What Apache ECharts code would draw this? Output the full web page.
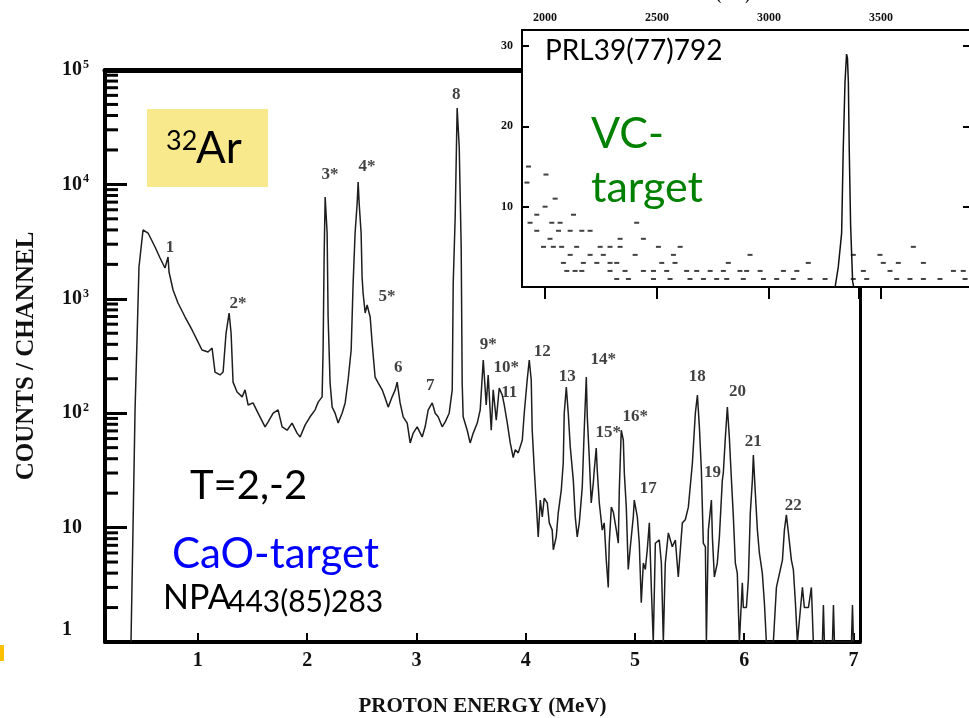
<!DOCTYPE html>
<html>
<head>
<meta charset="utf-8">
<script src="https://cdn.jsdelivr.net/npm/echarts@6/dist/echarts.min.js"></script>
<style>
html,body{margin:0;padding:0;background:#fff;}
#chart{width:969px;height:718px;}
</style>
</head>
<body>
<div id="chart"></div>
<script>
// ---------------- DATA ----------------
// Main spectrum: proton energy (MeV) and counts/channel
const energy = [0.388,0.406,0.425,0.443,0.461,0.498,0.544,0.608,0.654,0.699,0.727,0.736,0.773,0.818,0.883,0.947,0.993,1.038,1.093,1.130,1.157,1.203,1.231,1.258,1.286,1.304,1.322,1.359,1.405,1.432,1.460,1.505,1.551,1.615,1.643,1.689,1.734,1.771,1.817,1.862,1.908,1.936,1.982,2.027,2.073,2.101,2.137,2.146,2.156,2.165,2.183,2.192,2.210,2.229,2.256,2.284,2.320,2.348,2.375,2.403,2.421,2.439,2.458,2.467,2.476,2.494,2.503,2.512,2.531,2.549,2.577,2.595,2.622,2.650,2.687,2.714,2.742,2.778,2.806,2.824,2.851,2.879,2.916,2.943,2.971,3.007,3.053,3.080,3.108,3.145,3.172,3.199,3.236,3.264,3.300,3.328,3.337,3.355,3.373,3.392,3.410,3.419,3.428,3.465,3.492,3.520,3.557,3.584,3.612,3.639,3.657,3.685,3.703,3.731,3.758,3.786,3.804,3.832,3.859,3.886,3.905,3.932,3.969,3.987,4.014,4.033,4.051,4.060,4.079,4.097,4.115,4.134,4.152,4.170,4.198,4.216,4.243,4.253,4.280,4.298,4.326,4.344,4.353,4.372,4.390,4.408,4.436,4.454,4.472,4.491,4.518,4.536,4.555,4.564,4.582,4.600,4.619,4.628,4.646,4.655,4.674,4.701,4.719,4.738,4.756,4.765,4.784,4.802,4.830,4.848,4.857,4.875,4.894,4.903,4.921,4.939,4.958,4.985,4.994,5.022,5.040,5.058,5.077,5.095,5.113,5.132,5.150,5.168,5.187,5.223,5.242,5.260,5.278,5.306,5.342,5.370,5.397,5.434,5.461,5.489,5.526,5.553,5.572,5.590,5.608,5.626,5.645,5.654,5.672,5.700,5.709,5.727,5.754,5.773,5.800,5.809,5.828,5.846,5.864,5.882,5.901,5.919,5.937,5.956,5.983,5.992,6.020,6.038,6.056,6.075,6.084,6.102,6.121,6.139,6.166,6.185,6.203,6.267,6.295,6.350,6.368,6.386,6.405,6.432,6.450,6.469,6.487,6.533,6.551,6.588,6.615,6.633,6.716,6.725,6.734,6.808,6.817,6.826,6.982,6.991,7.000];
const counts = [1,9.5,107,436,1897,3994,3758,2836,2274,1858,2318,1715,1194,919,693,534,436,357,343,371,229,216,229,502,751,502,187,153,139,160,118,123,100,76,84,100,107,76,71,82,67,62,79,93,107,125,139,357,2513,7762,3758,693,184,113,100,82,100,123,195,357,1374,3758,6871,10490,6871,3758,1550,1124,751,883,693,411,207,184,160,136,113,139,160,187,123,93,82,55,67,76,62,76,107,123,100,93,76,84,100,160,1374,5188,46560,21230,2836,184,93,71,55,67,82,107,292,118,216,71,160,87,166,144,118,82,55,41,48,45,58,100,195,292,195,71,32,16.4,8.3,17.4,12.4,18.1,16.4,11,9.5,6.4,8.3,13.4,21.3,36.7,100,169,100,51,26,12.4,8.3,11,22.6,71,207,93,41.4,16.4,24.5,32,49.6,32,16.4,9.5,11,5.2,3.0,7.3,15.1,13.7,9.5,7.3,21.3,71,58,30,15.1,4.3,6.8,12.4,17.4,12.4,7.3,2.2,4.9,4.3,6.4,11,3.0,1,7.3,7.8,4.9,1,4.9,9.0,6.8,7.8,3.7,11,11.7,15.1,36.7,100,144,76,32,7.3,6.8,1,9.5,17.4,8.3,3.7,4.9,8.3,26,30,62,113,62,27.7,12.4,4.9,4.0,1,3.3,2.0,2.0,3.5,13.4,26,43,20,9.5,6.0,4.0,2.2,1,1,3.0,5.2,9.5,12.9,9.0,5.2,4.3,2.2,1,3.0,2.0,2.0,3.0,1,1,2.1,1,1,2.1,1,1,2.1,1];

// Peak labels (text, energy MeV, counts at label centre)
const peakNames = ['1','2*','3*','4*','5*','6','7','8','9*','10*','11','12','13','14*','15*','16*','17','18','19','20','21','22'];
const peakLabelE = [0.745,1.368,2.210,2.549,2.732,2.833,3.126,3.364,3.657,3.822,3.850,4.152,4.381,4.711,4.756,5.003,5.123,5.571,5.709,5.938,6.084,6.450];
const peakLabelC = [2780,900,12080,14190,1037,248,176,60400,394,248,150,343,207,292,67,93,21.7,207,30,153,56,15.5];

// Main axes ticks
const mainXTicks = [1,2,3,4,5,6,7];
const minorMultipliers = [2,3,4,5,6,7,8,9];
const decades = [1,10,100,1000,10000];

// Inset (VC target): energy in keV and counts
const vcDotKeV = [1926,2004,1919,2045,2000,1963,1933,2127,2030,2067,2409,1963,2060,2112,2164,2201,2022,2439,2335,1993,2037,2074,2141,2246,2290,2335,2506,2603,3644,2112,2201,2260,2402,2573,2915,3495,3376,2082,2171,2231,2290,2320,2521,2580,2818,3175,3510,3577,3689,2097,2134,2164,2290,2357,2439,2484,2543,2632,2677,2737,2796,2870,2900,2960,3064,3124,3421,3540,3823,3867,2320,2372,2484,2558,2647,2707,2766,2811,2885,2975,3034,3108,3183,3250,3376,3436,3570,3629,3689,3763,3875];
const vcDotCounts = [15,14,13,11,10,9,8,9,8,8,8,7,7,7,7,7,6,6,6,5,5,5,5,5,5,5,5,5,5,4,4,4,4,4,4,4,4,3,3,3,3,3,3,3,3,3,3,3,3,2,2,2,2,2,2,2,2,2,2,2,2,2,2,2,2,2,2,2,2,2,1,1,1,1,1,1,1,1,1,1,1,1,1,1,1,1,1,1,1,1,1];
const vcPeakKeV = [3295,3309,3324,3331,3339,3346,3350,3354,3358,3364,3373,3378];
const vcPeakCounts = [0,2.5,6.7,17,25.5,29,28.5,25.5,17,7.8,0.7,0];
const insetXTicks = [2000,2500,3000,3500];
const insetXBottomTicks = [2000,2500,3000,3402,3500];

// ---------------- CHART ----------------
const SERIF = "'Liberation Serif','DejaVu Serif',serif";
const SANS = "Lato,'Noto Sans',sans-serif";
const X_MIN = 0.15, X_MAX = 7.06;
const IX_MIN = 1897, IX_MAX = 3906;

const minorTickValues = [];
decades.forEach(d => minorMultipliers.forEach(m => minorTickValues.push(d * m)));

const chart = echarts.init(document.getElementById('chart'), null, {renderer: 'canvas'});

const option = {
  animation: false,
  backgroundColor: '#ffffff',
  grid: [
    {left: 105, top: 70, right: 109, bottom: 76, show: false, outerBoundsMode: 'none', containLabel: false},
    {left: 522, top: 30, width: 450, height: 257, show: true, backgroundColor: '#ffffff',
     borderColor: '#000', borderWidth: 2, z: 10, outerBoundsMode: 'none', containLabel: false}
  ],
  xAxis: [
    {gridIndex: 0, type: 'value', min: X_MIN, max: X_MAX, splitNumber: 6, position: 'bottom',
     axisLine: {lineStyle: {color: '#000', width: 4}},
     axisTick: {inside: true, length: 9, lineStyle: {color: '#000', width: 2}, customValues: mainXTicks},
     axisLabel: {fontFamily: SERIF, fontWeight: 'bold', fontSize: 20, color: '#111', margin: 9,
                 customValues: mainXTicks},
     splitLine: {show: false},
     name: 'PROTON ENERGY (MeV)', nameLocation: 'middle', nameGap: 54,
     nameTextStyle: {fontFamily: SERIF, fontWeight: 'bold', fontSize: 21, color: '#111'}},
    {gridIndex: 0, type: 'value', min: X_MIN, max: X_MAX, position: 'top',
     axisLine: {lineStyle: {color: '#000', width: 5}}, axisTick: {show: false},
     axisLabel: {show: false}, splitLine: {show: false}},
    {gridIndex: 1, type: 'value', min: IX_MIN, max: IX_MAX, splitNumber: 4, position: 'bottom', z: 11,
     axisLine: {show: false},
     axisTick: {inside: false, length: 12, lineStyle: {color: '#000', width: 2}, customValues: insetXBottomTicks},
     axisLabel: {show: false}, splitLine: {show: false}},
    {gridIndex: 1, type: 'value', min: IX_MIN, max: IX_MAX, splitNumber: 4, position: 'top', z: 11,
     axisLine: {show: false},
     axisTick: {inside: true, length: 8, lineStyle: {color: '#000', width: 2}, customValues: insetXTicks},
     axisLabel: {fontFamily: SERIF, fontWeight: 'bold', fontSize: 12, color: '#111', margin: 6,
                 customValues: insetXTicks, formatter: v => String(v)},
     splitLine: {show: false}}
  ],
  yAxis: [
    {gridIndex: 0, type: 'log', logBase: 10, min: 1, max: 100000, position: 'left',
     axisLine: {lineStyle: {color: '#000', width: 4}},
     axisTick: {inside: true, length: 22, lineStyle: {color: '#000', width: 3}},
     axisLabel: {align: 'left', margin: 43, color: '#111',
       formatter: function (v) {
         const e = Math.round(Math.log10(v));
         if (e === 0) return '{one|1}';
         if (e === 1) return '{a|10}';
         return '{a|10}{s|' + e + '}';
       },
       rich: {
         a: {fontFamily: SERIF, fontWeight: 'bold', fontSize: 20, color: '#111', lineHeight: 22},
         s: {fontFamily: SERIF, fontWeight: 'bold', fontSize: 12, color: '#111', lineHeight: 22, verticalAlign: 'top', padding: [0, 0, 8, 1]},
         one: {fontFamily: SERIF, fontWeight: 'bold', fontSize: 20, color: '#111', padding: [0, 0, 24, 0]}
       }},
     splitLine: {show: false},
     name: 'COUNTS / CHANNEL', nameLocation: 'middle', nameGap: 66,
     nameTextStyle: {fontFamily: SERIF, fontWeight: 'bold', fontSize: 25, color: '#111'}},
    {gridIndex: 0, type: 'log', logBase: 10, min: 1, max: 100000, position: 'right',
     axisLine: {lineStyle: {color: '#000', width: 3}}, axisTick: {show: false},
     axisLabel: {show: false}, splitLine: {show: false}},
    {gridIndex: 1, type: 'value', min: 0, max: 32, interval: 10, position: 'left', z: 11,
     axisLine: {show: false},
     axisTick: {inside: true, length: 7, lineStyle: {color: '#000', width: 2}},
     axisLabel: {fontFamily: SERIF, fontWeight: 'bold', fontSize: 12, color: '#111', margin: 9,
                 showMinLabel: false, showMaxLabel: false},
     splitLine: {show: false}},
    {gridIndex: 1, type: 'value', min: 0, max: 32, interval: 10, position: 'right', z: 11,
     axisLine: {show: false},
     axisTick: {inside: true, length: 9, lineStyle: {color: '#000', width: 2}},
     axisLabel: {show: false}, splitLine: {show: false}}
  ],
  series: [
    {type: 'line', xAxisIndex: 0, yAxisIndex: 0, showSymbol: false, symbol: 'none',
     data: energy.map((e, i) => [e, counts[i]]),
     lineStyle: {color: '#1e1e1e', width: 1.5}, z: 2, clip: true},
    {type: 'custom', xAxisIndex: 0, yAxisIndex: 0, z: 3,
     data: minorTickValues.map(v => [X_MIN, v]),
     encode: {x: 0, y: 1},
     renderItem: function (params, api) {
       const p = api.coord([api.value(0), api.value(1)]);
       return {type: 'line', shape: {x1: p[0], y1: p[1], x2: p[0] + 13, y2: p[1]},
               style: {stroke: '#000', lineWidth: 3}};
     }},
    {type: 'scatter', xAxisIndex: 0, yAxisIndex: 0, symbolSize: 1, z: 4,
     itemStyle: {color: 'rgba(0,0,0,0)'},
     data: peakNames.map((n, i) => ({value: [peakLabelE[i], peakLabelC[i]], name: n})),
     label: {show: true, position: 'inside', formatter: p => p.name,
             fontFamily: SERIF, fontWeight: 'bold', fontSize: 17, color: '#111'}},
    {type: 'scatter', xAxisIndex: 2, yAxisIndex: 2, symbol: 'rect', symbolSize: [5, 2], z: 12,
     itemStyle: {color: '#111'},
     data: vcDotKeV.map((k, i) => [k, vcDotCounts[i]])},
    {type: 'line', xAxisIndex: 2, yAxisIndex: 2, showSymbol: false, symbol: 'none', z: 12,
     lineStyle: {color: '#111', width: 1.5},
     data: vcPeakKeV.map((k, i) => [k, vcPeakCounts[i]])}
  ],
  graphic: [
    {type: 'rect', z: 100, shape: {x: 147, y: 109, width: 121, height: 78}, style: {fill: '#f8ea8c'}},
    {type: 'text', z: 101, x: 166, y: 141, style: {text: '32', fontFamily: SANS, fontSize: 27, fill: '#000', align: 'left', verticalAlign: 'middle'}},
    {type: 'text', z: 101, x: 196, y: 149, style: {text: 'Ar', fontFamily: SANS, fontSize: 44, fill: '#000', align: 'left', verticalAlign: 'middle'}},
    {type: 'text', z: 101, x: 190, y: 486, style: {text: 'T=2,-2', fontFamily: SANS, fontSize: 40, fill: '#000', align: 'left', verticalAlign: 'middle'}},
    {type: 'text', z: 101, x: 172, y: 554, style: {text: 'CaO-target', fontFamily: SANS, fontSize: 42, fill: '#0000ff', align: 'left', verticalAlign: 'middle'}},
    {type: 'text', z: 101, x: 163, y: 598, style: {text: 'NPA', fontFamily: SANS, fontSize: 34, fill: '#000', align: 'left', verticalAlign: 'middle'}},
    {type: 'text', z: 101, x: 228, y: 602, style: {text: '443(85)283', fontFamily: SANS, fontSize: 30, fill: '#000', align: 'left', verticalAlign: 'middle'}},
    {type: 'text', z: 101, x: 545, y: 51, style: {text: 'PRL39(77)792', fontFamily: SANS, fontSize: 28, fill: '#000', align: 'left', verticalAlign: 'middle'}},
    {type: 'text', z: 101, x: 591, y: 134, style: {text: 'VC-', fontFamily: SANS, fontSize: 43, fill: '#008000', align: 'left', verticalAlign: 'middle'}},
    {type: 'text', z: 101, x: 591, y: 188, style: {text: 'target', fontFamily: SANS, fontSize: 43, fill: '#008000', align: 'left', verticalAlign: 'middle'}},
    {type: 'text', z: 101, x: 653, y: -4, style: {text: 'ENERGY (keV)', fontFamily: SERIF, fontWeight: 'bold', fontSize: 14, fill: '#111', align: 'left', verticalAlign: 'middle'}},
    {type: 'rect', z: 100, shape: {x: 0, y: 645, width: 4, height: 16}, style: {fill: '#ffc000'}}
  ]
};
chart.setOption(option);
</script>
</body>
</html>
